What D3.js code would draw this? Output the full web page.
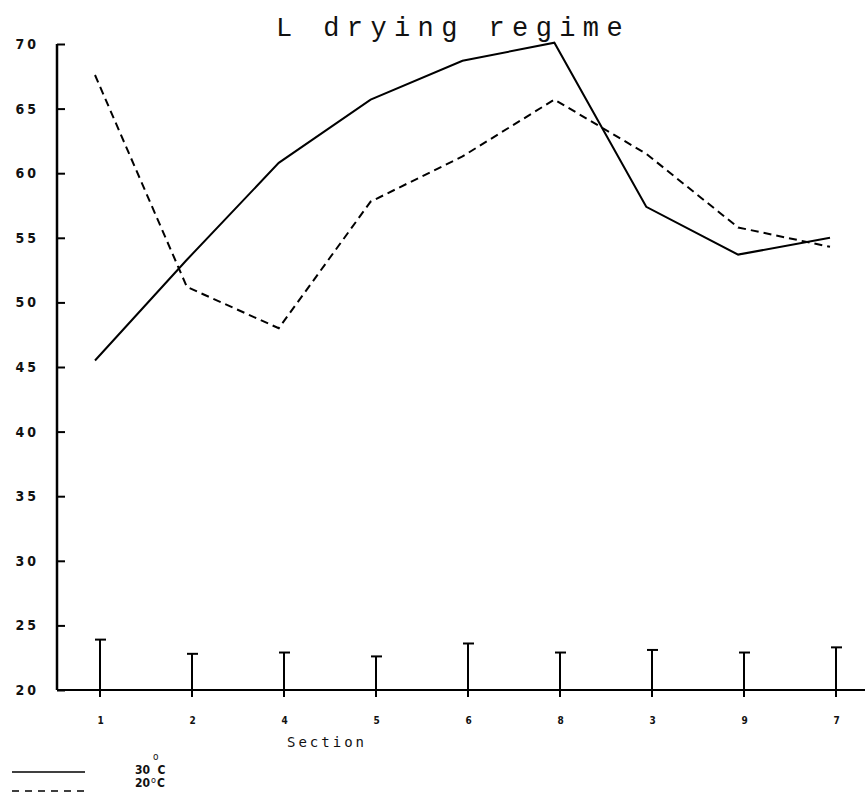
<!DOCTYPE html>
<html>
<head>
<meta charset="utf-8">
<script src="https://cdn.jsdelivr.net/npm/d3@7/dist/d3.min.js"></script>
<style>
  html, body { margin: 0; padding: 0; background: #fff; }
  svg { display: block; }
</style>
</head>
<body>
<svg id="chart" width="865" height="795"></svg>
<script>
// ---- data ----
const sections = ["1", "2", "4", "5", "6", "8", "3", "9", "7"];
const temp30 = [45.5, 53.3, 60.8, 65.7, 68.7, 70.1, 57.4, 53.7, 55.0];
const temp20 = [67.6, 51.2, 48.0, 57.8, 61.3, 65.7, 61.5, 55.8, 54.3];
const errTops = [23.9, 22.8, 22.9, 22.6, 23.6, 22.9, 23.1, 22.9, 23.3];
const yTicks = [20, 25, 30, 35, 40, 45, 50, 55, 60, 65, 70];
const seriesNames = ["30", "20"];
const titleText = "L drying regime";
const xTitle = "Section";

// ---- layout ----
const svg = d3.select("#chart");
const axisX = 57;
const y = d3.scaleLinear().domain([20, 70]).range([690, 44]);
const x = d3.scalePoint().domain(sections).range([100, 836]);
const xLine = d3.scalePoint().domain(sections).range([95, 830]);

// title
svg.append("text")
  .attr("x", 276).attr("y", 36)
  .attr("font-family", "'Courier New', 'Liberation Mono', monospace")
  .attr("font-size", 27)
  .attr("letter-spacing", 7.4)
  .attr("fill", "#111")
  .text(titleText);

// y axis
const yAxis = d3.axisLeft(y).tickValues(yTicks).tickSize(-8).tickPadding(18)
  .tickFormat(d3.format("d"));
const gy = svg.append("g").attr("transform", `translate(${axisX},0)`).call(yAxis);
gy.select(".domain").remove();
gy.selectAll(".tick line").attr("stroke", "#000").attr("stroke-width", 2);
gy.selectAll(".tick text")
  .attr("font-family", "'DejaVu Sans Condensed', 'Liberation Sans', sans-serif")
  .attr("font-size", 14)
  .attr("font-weight", "bold")
  .attr("letter-spacing", 3)
  .attr("fill", "#111");
svg.append("line")
  .attr("x1", axisX).attr("x2", axisX)
  .attr("y1", y(70)).attr("y2", y(20))
  .attr("stroke", "#000").attr("stroke-width", 2.5);

// x axis
svg.append("line")
  .attr("x1", axisX).attr("x2", 865)
  .attr("y1", y(20)).attr("y2", y(20))
  .attr("stroke", "#000").attr("stroke-width", 2);
const xAxis = d3.axisBottom(x).tickSize(0).tickPadding(27);
const gx = svg.append("g").attr("transform", `translate(0,${y(20)})`).call(xAxis);
gx.select(".domain").remove();
gx.selectAll(".tick text")
  .attr("font-family", "'DejaVu Sans Condensed', 'Liberation Sans', sans-serif")
  .attr("font-size", 10)
  .attr("font-weight", "bold")
  .attr("fill", "#111");

svg.append("text")
  .attr("x", 287).attr("y", 747)
  .attr("font-family", "'DejaVu Sans Mono', monospace")
  .attr("font-size", 14)
  .attr("letter-spacing", 3)
  .attr("fill", "#111")
  .text(xTitle);

// error bars
const eb = svg.append("g");
sections.forEach((s, i) => {
  const cx = x(s);
  eb.append("line")
    .attr("x1", cx).attr("x2", cx)
    .attr("y1", y(20) + 7).attr("y2", y(errTops[i]))
    .attr("stroke", "#000").attr("stroke-width", 2);
  eb.append("line")
    .attr("x1", cx - 5).attr("x2", cx + 6)
    .attr("y1", y(errTops[i])).attr("y2", y(errTops[i]))
    .attr("stroke", "#000").attr("stroke-width", 2);
});

// lines
const line = d3.line().x((d, i) => xLine(sections[i])).y(d => y(d));
svg.append("path").datum(temp30)
  .attr("d", line).attr("fill", "none")
  .attr("stroke", "#000").attr("stroke-width", 2);
svg.append("path").datum(temp20)
  .attr("d", line).attr("fill", "none")
  .attr("stroke", "#000").attr("stroke-width", 2)
  .attr("stroke-dasharray", "8,5");

// legend
const lg = svg.append("g");
lg.append("line").attr("x1", 12).attr("x2", 85).attr("y1", 772).attr("y2", 772)
  .attr("stroke", "#000").attr("stroke-width", 1.5);
lg.append("line").attr("x1", 12).attr("x2", 85).attr("y1", 791).attr("y2", 791)
  .attr("stroke", "#000").attr("stroke-width", 1.5).attr("stroke-dasharray", "7,6");
const lf = "'DejaVu Sans Condensed', 'Liberation Sans', sans-serif";
const t1 = lg.append("text").attr("x", 135).attr("y", 774)
  .attr("font-family", lf).attr("font-size", 12).attr("font-weight", "bold").attr("fill", "#111");
t1.append("tspan").text(seriesNames[0]);
t1.append("tspan").attr("dx", 3).attr("dy", -14).attr("font-size", 10).attr("font-weight", "normal").text("o");
t1.append("tspan").attr("dx", -1).attr("dy", 14).text("C");
const t2 = lg.append("text").attr("x", 135).attr("y", 787)
  .attr("font-family", lf).attr("font-size", 12).attr("font-weight", "bold").attr("fill", "#111");
t2.append("tspan").text(seriesNames[1]);
t2.append("tspan").attr("dx", 1).attr("dy", -4).attr("font-size", 9).attr("font-weight", "normal").text("o");
t2.append("tspan").attr("dx", 1).attr("dy", 4).text("C");
</script>
</body>
</html>
